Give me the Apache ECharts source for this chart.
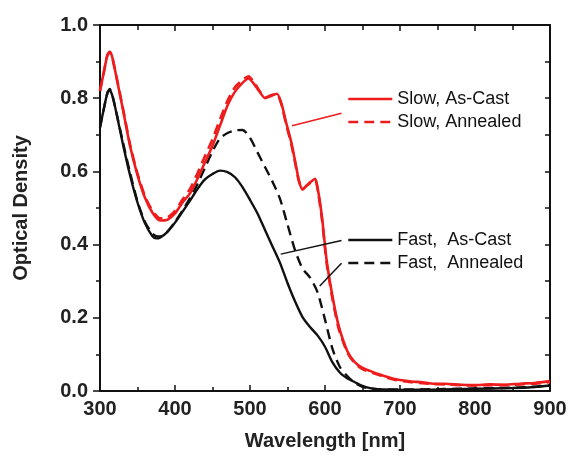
<!DOCTYPE html>
<html>
<head>
<meta charset="utf-8">
<script src="https://cdn.jsdelivr.net/npm/echarts@6/dist/echarts.min.js"></script>
<style>
  html, body { margin: 0; padding: 0; background: #fff; }
  #chart { width: 571px; height: 457px; }
</style>
</head>
<body>
<div id="chart"></div>
<script>
// wavelength grids (nm)
var slowWl = [300, 305, 310, 313, 316, 320, 330, 340, 350, 360, 370, 380, 390, 400, 410, 420, 430, 440, 450, 460,
  470, 480, 490, 498, 505, 512, 520, 528, 536, 542, 548, 555, 560, 565, 570, 575, 580, 587, 591, 596,
  602, 609, 618, 630, 640, 650, 660, 670, 680, 690, 700, 715, 730, 745, 760, 780, 800, 820, 840, 860, 880, 900];
var slowCast = [0.82, 0.87, 0.92, 0.927, 0.915, 0.877, 0.775, 0.67, 0.59, 0.528, 0.487, 0.466, 0.468, 0.485, 0.515, 0.54, 0.58, 0.625, 0.67, 0.725,
  0.78, 0.818, 0.842, 0.854, 0.84, 0.82, 0.80, 0.806, 0.812, 0.785, 0.735, 0.68, 0.63, 0.577, 0.55, 0.56, 0.57, 0.58, 0.545, 0.475,
  0.36, 0.27, 0.18, 0.108, 0.078, 0.063, 0.055, 0.047, 0.04, 0.034, 0.03, 0.026, 0.024, 0.02, 0.02, 0.017, 0.016, 0.018, 0.017, 0.02, 0.022, 0.027];
var slowAnneal = [0.82, 0.87, 0.918, 0.925, 0.913, 0.878, 0.778, 0.674, 0.594, 0.532, 0.492, 0.472, 0.474, 0.492, 0.523, 0.552, 0.595, 0.642, 0.688, 0.742,
  0.793, 0.83, 0.85, 0.86, 0.845, 0.822, 0.802, 0.808, 0.812, 0.782, 0.73, 0.675, 0.625, 0.575, 0.552, 0.56, 0.568, 0.576, 0.54, 0.468,
  0.352, 0.262, 0.172, 0.104, 0.075, 0.06, 0.052, 0.045, 0.038, 0.032, 0.028, 0.024, 0.021, 0.019, 0.018, 0.016, 0.015, 0.016, 0.016, 0.018, 0.02, 0.024];

var fastWl = [300, 305, 310, 313, 316, 320, 330, 340, 350, 360, 370, 375, 380, 390, 400, 410, 420, 430, 440, 450,
  460, 470, 480, 490, 500, 510, 520, 530, 540, 550, 560, 570, 580, 590, 600, 610, 620, 630, 640, 650,
  660, 670, 680, 700, 750, 800, 850, 880, 900];
var fastCast = [0.72, 0.77, 0.815, 0.822, 0.81, 0.777, 0.68, 0.59, 0.515, 0.458, 0.423, 0.417, 0.419, 0.435, 0.46, 0.49, 0.52, 0.552, 0.578, 0.593,
  0.602, 0.598, 0.584, 0.557, 0.522, 0.485, 0.44, 0.395, 0.35, 0.295, 0.245, 0.202, 0.175, 0.152, 0.121, 0.078, 0.05, 0.034, 0.024, 0.014,
  0.008, 0.005, 0.004, 0.003, 0.004, 0.006, 0.008, 0.011, 0.015];
var fastAnneal = [0.72, 0.77, 0.815, 0.825, 0.812, 0.778, 0.685, 0.597, 0.518, 0.462, 0.43, 0.423, 0.422, 0.436, 0.462, 0.493, 0.527, 0.566, 0.61, 0.655,
  0.69, 0.705, 0.712, 0.713, 0.692, 0.652, 0.612, 0.572, 0.525, 0.455, 0.385, 0.335, 0.31, 0.27, 0.195, 0.115, 0.065, 0.04, 0.022, 0.011,
  0.007, 0.005, 0.004, 0.004, 0.005, 0.007, 0.009, 0.012, 0.016];

// leader lines from the legend to the curves, in data units
var slowPointer = [[556, 0.725], [622, 0.759]];
var fastCastPointer = [[541, 0.374], [622, 0.411]];
var fastAnnealPointer = [[593, 0.287], [622, 0.349]];

var RED = '#ee1c1c';
var BLACK = '#111111';
var FONT = 'Liberation Sans';
var DASH = [10, 6];

function pairs(xs, ys) {
  return xs.map(function (x, i) { return [x, ys[i]]; });
}

function pointer(seg, color) {
  return {
    silent: true,
    symbol: 'none',
    label: { show: false },
    lineStyle: { color: color, width: 1.5, type: 'solid' },
    data: [[{ coord: seg[0] }, { coord: seg[1] }]]
  };
}

function legendBox(names, top) {
  return {
    data: names,
    orient: 'vertical', left: 347, top: top, padding: 0,
    itemWidth: 44, itemHeight: 18, itemGap: 5,
    itemStyle: { opacity: 0 },
    lineStyle: { width: 2.6 },
    textStyle: { fontFamily: FONT, fontSize: 18, color: '#111' },
    selectedMode: false
  };
}

var chart = echarts.init(document.getElementById('chart'));

var tickLabel = { fontFamily: FONT, fontSize: 20, fontWeight: 'bold', color: '#222' };
var axisLine = { show: true, onZero: false, lineStyle: { color: '#111', width: 2 } };

chart.setOption({
  backgroundColor: '#fff',
  animation: false,
  grid: { left: 100, right: 21, top: 25, bottom: 66 },
  legend: [
    legendBox(['Slow, As-Cast', 'Slow, Annealed'], 90),
    legendBox(['Fast,  As-Cast', 'Fast,  Annealed'], 231)
  ],
  xAxis: [
    {
      type: 'value', position: 'bottom', min: 300, max: 900, interval: 100,
      name: 'Wavelength [nm]', nameLocation: 'middle', nameGap: 40,
      nameTextStyle: { fontFamily: FONT, fontSize: 20, fontWeight: 'bold', color: '#222' },
      axisLine: axisLine,
      axisTick: { inside: true, length: 6, lineStyle: { color: '#111', width: 1.5 } },
      minorTick: { show: true, splitNumber: 2, length: 4, lineStyle: { color: '#111', width: 1.5 } },
      axisLabel: Object.assign({ margin: 8 }, tickLabel),
      splitLine: { show: false }
    },
    {
      type: 'value', position: 'top', min: 300, max: 900, interval: 100,
      axisLine: axisLine,
      axisTick: { inside: true, length: 6, lineStyle: { color: '#111', width: 1.5 } },
      minorTick: { show: true, splitNumber: 2, length: 5, lineStyle: { color: '#111', width: 1.5 } },
      axisLabel: { show: false },
      splitLine: { show: false }
    }
  ],
  yAxis: [
    {
      type: 'value', position: 'left', min: 0, max: 1, interval: 0.2,
      name: 'Optical Density', nameLocation: 'middle', nameGap: 69,
      nameTextStyle: { fontFamily: FONT, fontSize: 20, fontWeight: 'bold', color: '#222' },
      axisLine: axisLine,
      axisTick: { inside: false, length: 7, lineStyle: { color: '#111', width: 1.5 } },
      minorTick: { show: true, splitNumber: 2, length: 4, lineStyle: { color: '#111', width: 1.5 } },
      axisLabel: Object.assign({ margin: 12, formatter: function (v) { return v.toFixed(1); } }, tickLabel),
      splitLine: { show: false }
    },
    {
      type: 'value', position: 'right', min: 0, max: 1, interval: 0.2,
      axisLine: axisLine,
      axisTick: { inside: true, length: 5, lineStyle: { color: '#111', width: 1.5 } },
      minorTick: { show: true, splitNumber: 2, length: 5, lineStyle: { color: '#111', width: 1.5 } },
      axisLabel: { show: false },
      splitLine: { show: false }
    }
  ],
  series: [
    {
      name: 'Fast,  As-Cast', type: 'line', showSymbol: false, symbol: 'none', smooth: 0.25,
      data: pairs(fastWl, fastCast),
      lineStyle: { color: BLACK, width: 2.4 }, itemStyle: { color: BLACK },
      markLine: pointer(fastCastPointer, BLACK)
    },
    {
      name: 'Fast,  Annealed', type: 'line', showSymbol: false, symbol: 'none', smooth: 0.25,
      data: pairs(fastWl, fastAnneal),
      lineStyle: { color: BLACK, width: 2.4, type: DASH }, itemStyle: { color: BLACK },
      markLine: pointer(fastAnnealPointer, BLACK)
    },
    {
      name: 'Slow, Annealed', type: 'line', showSymbol: false, symbol: 'none', smooth: 0.2,
      data: pairs(slowWl, slowAnneal),
      lineStyle: { color: RED, width: 2.6, type: DASH }, itemStyle: { color: RED }
    },
    {
      name: 'Slow, As-Cast', type: 'line', showSymbol: false, symbol: 'none', smooth: 0.2,
      data: pairs(slowWl, slowCast),
      lineStyle: { color: RED, width: 2.6 }, itemStyle: { color: RED },
      markLine: pointer(slowPointer, RED)
    }
  ]
});
</script>
</body>
</html>
